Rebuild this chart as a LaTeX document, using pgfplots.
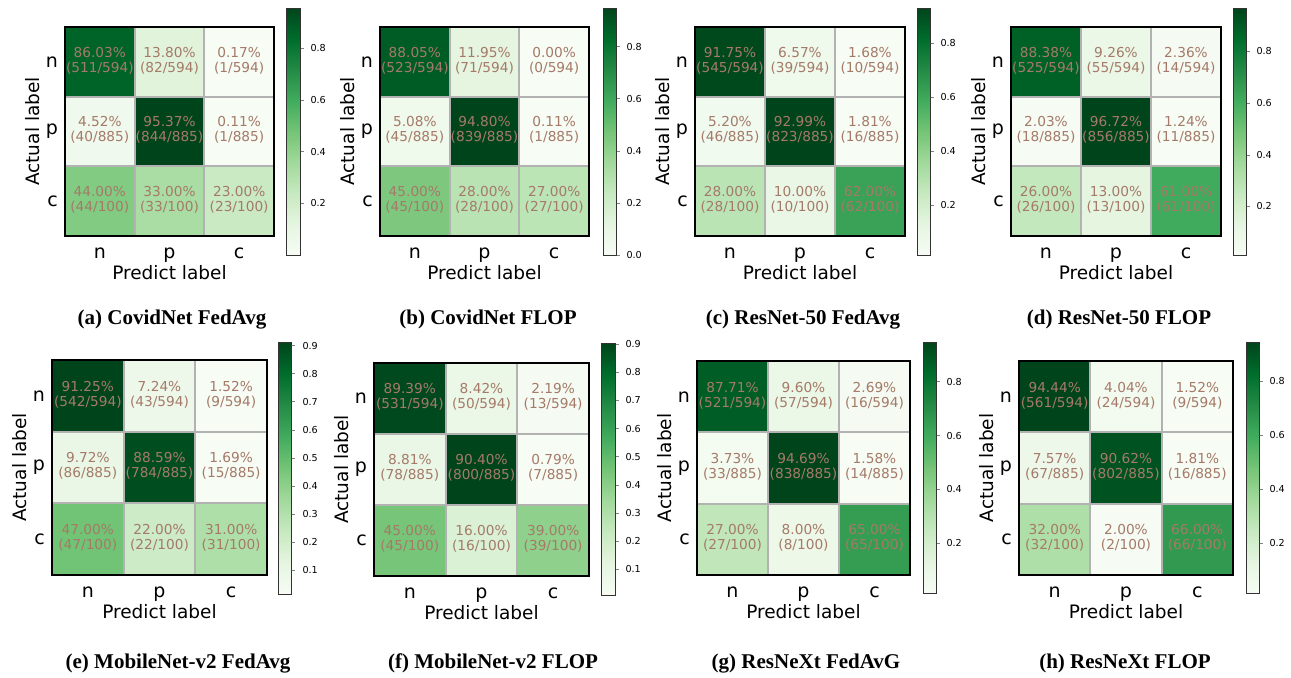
\documentclass[border=0pt]{standalone}
\usepackage{pgfplots}
\pgfplotsset{compat=1.18}
\usepackage{fontspec}
\setmainfont{DejaVu Sans}
\newfontfamily\capfont{Liberation Serif}
\definecolor{celltext}{RGB}{165,122,104}
\pgfplotsset{colormap={greens}{rgb255=(247,252,245) rgb255=(229,245,224) rgb255=(199,233,192) rgb255=(161,217,155) rgb255=(116,196,118) rgb255=(65,171,93) rgb255=(35,139,69) rgb255=(0,109,44) rgb255=(0,68,27)}}

\pgfplotsset{
 cmbase/.style={
  scale only axis, anchor=north west, clip marker paths=true,
  xmin=-0.5, xmax=2.5, ymin=-0.5, ymax=2.5, y dir=reverse, enlargelimits=false,
  xtick={0,1,2}, ytick={0,1,2}, xticklabels={n,p,c}, yticklabels={n,p,c},
  major tick length=0pt, minor tick length=0pt,
  minor xtick={0.5,1.5}, minor ytick={0.5,1.5}, xminorgrids, yminorgrids,
  minor grid style={draw=black!30, line width=1pt},
  axis on top, axis line style={line width=0.6pt, black},
  ticklabel style={font=\fontsize{9.5}{10}\selectfont},
  xticklabel style={yshift=-2.5pt},
  label style={font=\fontsize{9.25}{10}\selectfont},
  xlabel={Predict label}, ylabel={Actual label},
  xlabel shift=-5.5pt, ylabel shift=-4pt,
  colormap name=greens, colorbar,
  colorbar style={scale only axis, width=6.5pt, at={(parent axis.north east)}, anchor=north west,
    ytick pos=right, yticklabel pos=right, tick align=outside, major tick length=1.75pt,
    axis line style={line width=0.5pt, black!80},
    yticklabel style={font=\fontsize{4.8}{5}\selectfont, /pgf/number format/.cd, fixed, fixed zerofill, precision=1, assume math mode=true}},
 },
 cbpos/.style n args={4}{colorbar style={xshift={#1-0.3cm}, yshift=#2, height=#3, ytick={#4}}},
 cmcells/.style={scatter, only marks, mark=square*, mark size=#1, point meta=explicit,
   scatter/use mapped color={draw=mapped color, fill=mapped color}},
}
\tikzset{lab/.style={align=center, inner sep=0pt, yshift=0.6pt, text=celltext, font=\fontsize{6.85}{7.5}\selectfont}}
\newcommand\cl[4]{\node[lab] at (axis cs:#1,#2) {#3\%\\(#4)};}

\begin{document}
\begin{tikzpicture}
\useasboundingbox (0,0) rectangle (645.5pt,-338.5pt);
% (a)
\begin{axis}[cmbase, at={(32.5pt,-13.5pt)}, width=104.5pt, height=104.5pt, cbpos={6.5pt}{9.5pt}{123.5pt}{0.2,0.4,0.6,0.8}]
\addplot[cmcells=17.5pt] coordinates {(0,0) [0.8603] (1,0) [0.1380] (2,0) [0.0017] (0,1) [0.0452] (1,1) [0.9537] (2,1) [0.0011] (0,2) [0.4400] (1,2) [0.3300] (2,2) [0.2300]};
\cl00{86.03}{511/594}\cl10{13.80}{82/594}\cl20{0.17}{1/594}
\cl01{4.52}{40/885}\cl11{95.37}{844/885}\cl21{0.11}{1/885}
\cl02{44.00}{44/100}\cl12{33.00}{33/100}\cl22{23.00}{23/100}
\end{axis}
% (b)
\begin{axis}[cmbase, at={(190pt,-13.5pt)}, width=104.5pt, height=104.5pt, cbpos={7pt}{9.5pt}{123.5pt}{0,0.2,0.4,0.6,0.8}]
\addplot[cmcells=17.5pt] coordinates {(0,0) [0.8805] (1,0) [0.1195] (2,0) [0.0000] (0,1) [0.0508] (1,1) [0.9480] (2,1) [0.0011] (0,2) [0.4500] (1,2) [0.2800] (2,2) [0.2700]};
\cl00{88.05}{523/594}\cl10{11.95}{71/594}\cl20{0.00}{0/594}
\cl01{5.08}{45/885}\cl11{94.80}{839/885}\cl21{0.11}{1/885}
\cl02{45.00}{45/100}\cl12{28.00}{28/100}\cl22{27.00}{27/100}
\end{axis}
% (c)
\begin{axis}[cmbase, at={(347.5pt,-13.5pt)}, width=105pt, height=104.5pt, cbpos={6pt}{9.5pt}{123.5pt}{0.2,0.4,0.6,0.8}]
\addplot[cmcells=17.55pt] coordinates {(0,0) [0.9175] (1,0) [0.0657] (2,0) [0.0168] (0,1) [0.0520] (1,1) [0.9299] (2,1) [0.0181] (0,2) [0.2800] (1,2) [0.1000] (2,2) [0.6200]};
\cl00{91.75}{545/594}\cl10{6.57}{39/594}\cl20{1.68}{10/594}
\cl01{5.20}{46/885}\cl11{92.99}{823/885}\cl21{1.81}{16/885}
\cl02{28.00}{28/100}\cl12{10.00}{10/100}\cl22{62.00}{62/100}
\end{axis}
% (d)
\begin{axis}[cmbase, at={(505.5pt,-13.5pt)}, width=105pt, height=104.5pt, cbpos={6pt}{9.5pt}{123.5pt}{0.2,0.4,0.6,0.8}]
\addplot[cmcells=17.55pt] coordinates {(0,0) [0.8838] (1,0) [0.0926] (2,0) [0.0236] (0,1) [0.0203] (1,1) [0.9672] (2,1) [0.0124] (0,2) [0.2600] (1,2) [0.1300] (2,2) [0.6100]};
\cl00{88.38}{525/594}\cl10{9.26}{55/594}\cl20{2.36}{14/594}
\cl01{2.03}{18/885}\cl11{96.72}{856/885}\cl21{1.24}{11/885}
\cl02{26.00}{26/100}\cl12{13.00}{13/100}\cl22{61.00}{61/100}
\end{axis}
% (e)
\begin{axis}[cmbase, at={(26pt,-180pt)}, width=107.5pt, height=107.5pt, cbpos={6pt}{9pt}{126pt}{0.1,0.2,0.3,0.4,0.5,0.6,0.7,0.8,0.9}]
\addplot[cmcells=18pt] coordinates {(0,0) [0.9125] (1,0) [0.0724] (2,0) [0.0152] (0,1) [0.0972] (1,1) [0.8859] (2,1) [0.0169] (0,2) [0.4700] (1,2) [0.2200] (2,2) [0.3100]};
\cl00{91.25}{542/594}\cl10{7.24}{43/594}\cl20{1.52}{9/594}
\cl01{9.72}{86/885}\cl11{88.59}{784/885}\cl21{1.69}{15/885}
\cl02{47.00}{47/100}\cl12{22.00}{22/100}\cl22{31.00}{31/100}
\end{axis}
% (f)
\begin{axis}[cmbase, at={(187pt,-181.5pt)}, width=107.5pt, height=106.5pt, cbpos={6.5pt}{10pt}{126pt}{0.1,0.2,0.3,0.4,0.5,0.6,0.7,0.8,0.9}]
\addplot[cmcells=17.95pt] coordinates {(0,0) [0.8939] (1,0) [0.0842] (2,0) [0.0219] (0,1) [0.0881] (1,1) [0.9040] (2,1) [0.0079] (0,2) [0.4500] (1,2) [0.1600] (2,2) [0.3900]};
\cl00{89.39}{531/594}\cl10{8.42}{50/594}\cl20{2.19}{13/594}
\cl01{8.81}{78/885}\cl11{90.40}{800/885}\cl21{0.79}{7/885}
\cl02{45.00}{45/100}\cl12{16.00}{16/100}\cl22{39.00}{39/100}
\end{axis}
% (g)
\begin{axis}[cmbase, at={(348.5pt,-180.5pt)}, width=106.5pt, height=107pt, cbpos={6.5pt}{9.5pt}{125.5pt}{0.2,0.4,0.6,0.8}]
\addplot[cmcells=17.85pt] coordinates {(0,0) [0.8771] (1,0) [0.0960] (2,0) [0.0269] (0,1) [0.0373] (1,1) [0.9469] (2,1) [0.0158] (0,2) [0.2700] (1,2) [0.0800] (2,2) [0.6500]};
\cl00{87.71}{521/594}\cl10{9.60}{57/594}\cl20{2.69}{16/594}
\cl01{3.73}{33/885}\cl11{94.69}{838/885}\cl21{1.58}{14/885}
\cl02{27.00}{27/100}\cl12{8.00}{8/100}\cl22{65.00}{65/100}
\end{axis}
% (h)
\begin{axis}[cmbase, at={(509.5pt,-180.5pt)}, width=107pt, height=107pt, cbpos={6.5pt}{9.5pt}{125.5pt}{0.2,0.4,0.6,0.8}]
\addplot[cmcells=17.9pt] coordinates {(0,0) [0.9444] (1,0) [0.0404] (2,0) [0.0152] (0,1) [0.0757] (1,1) [0.9062] (2,1) [0.0181] (0,2) [0.3200] (1,2) [0.0200] (2,2) [0.6600]};
\cl00{94.44}{561/594}\cl10{4.04}{24/594}\cl20{1.52}{9/594}
\cl01{7.57}{67/885}\cl11{90.62}{802/885}\cl21{1.81}{16/885}
\cl02{32.00}{32/100}\cl12{2.00}{2/100}\cl22{66.00}{66/100}
\end{axis}
% captions
\begin{scope}[every node/.style={anchor=base, font=\capfont\bfseries\fontsize{10.5}{12}\selectfont, inner sep=0pt}]
\node at (86pt,-162pt) {(a) CovidNet FedAvg};
\node at (244pt,-162pt) {(b) CovidNet FLOP};
\node at (401.5pt,-162pt) {(c) ResNet-50 FedAvg};
\node at (559.5pt,-162pt) {(d) ResNet-50 FLOP};
\node at (89pt,-334pt) {(e) MobileNet-v2 FedAvg};
\node at (246.5pt,-334pt) {(f) MobileNet-v2 FLOP};
\node at (403pt,-334pt) {(g) ResNeXt FedAvG};
\node at (562.5pt,-334pt) {(h) ResNeXt FLOP};
\end{scope}
\end{tikzpicture}
\end{document}
